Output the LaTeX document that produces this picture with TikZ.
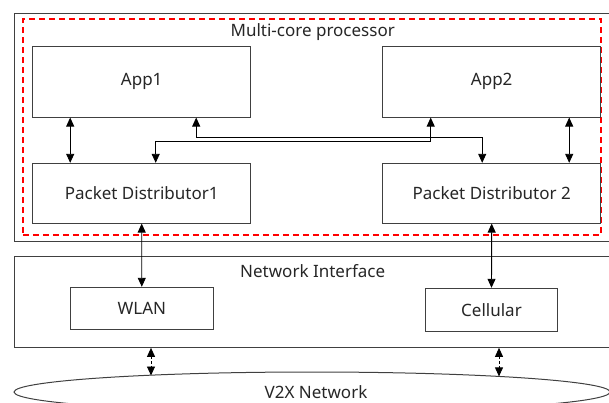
\documentclass[tikz,border=0pt]{standalone}
\usepackage{fontspec}
\setmainfont{Noto Sans}
\usetikzlibrary{arrows.meta,shapes.geometric}

\tikzset{
  box/.style={draw=black!75,line width=1pt,inner sep=0pt,text=black!85},
  redbox/.style={draw=red,line width=1.2pt,dash pattern=on 6pt off 4pt,inner sep=0pt},
  link/.style={line width=0.9pt,{Triangle[width=8pt,length=9pt]}-{Triangle[width=8pt,length=9pt]}},
  radio/.style={link,dash pattern=on 2.5pt off 2pt}
}

\begin{document}
\begin{tikzpicture}[x=1pt,y=-1pt,font=\fontsize{17}{19}\selectfont]
  \useasboundingbox (0,0) rectangle (609,403);
  \clip (0,0) rectangle (609,403);

  \node[box,minimum width=606pt,minimum height=228pt] (cpu) at (317.2,127.2) {};
  \node[redbox,minimum width=578pt,minimum height=216pt] (core) at (311.9,127) {};
  \node[text=black!85] (cpulbl) at (312.7,32.5) {Multi-core processor};

  \node[box,minimum width=218pt,minimum height=70.7pt] (A1) at (141.7,81.7) {App1};
  \node[box,minimum width=218pt,minimum height=70.7pt] (A2) at (491.7,81.7) {App2};
  \node[box,minimum width=218pt,minimum height=59.7pt] (P1) at (141.7,193.2) {Packet Distributor1};
  \node[box,minimum width=218pt,minimum height=59.7pt] (P2) at (491.7,193.2) {Packet Distributor 2};

  \node[box,minimum width=606pt,minimum height=91.3pt] (net) at (317.2,301.7) {};
  \node[text=black!85] (netlbl) at (312.7,271.5) {Network Interface};
  \node[box,minimum width=143pt,minimum height=42.4pt] (W) at (141.8,308.5) {WLAN};
  \node[box,minimum width=132.4pt,minimum height=43pt] (C) at (491.5,309.8) {Cellular};

  \node[box,ellipse,minimum width=596pt,minimum height=40pt] (V) at (312,392) {};
  \node[text=black!85] (vlbl) at (316,392) {V2X Network};

  \coordinate (wv) at (151,375.5);
  \coordinate (cv) at (499,376.4);

  \draw[link] ([xshift=38pt]A1.south west) -- ([xshift=38pt]P1.north west);
  \draw[link] ([xshift=-32pt]A2.south east) -- ([xshift=-32pt]P2.north east);
  \draw[link] ([xshift=-55pt]A1.south east) -- ++(0,20) -| ([xshift=-9.5pt]P2.north);
  \draw[link] ([xshift=48.5pt]A2.south west) -- ++(0,24) -| ([xshift=14pt]P1.north);
  \foreach \from/\to in {P1/W,P2/C}
    \draw[link] (\from.south) -- (\to.north);
  \draw[radio] (net.south -| wv) -- (wv);
  \draw[radio] (net.south -| cv) -- (cv);
\end{tikzpicture}
\end{document}
